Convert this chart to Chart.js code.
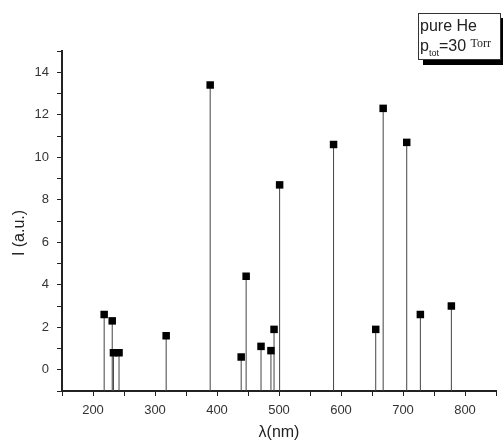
<!DOCTYPE html>
<html>
<head>
<meta charset="utf-8">
<script src="https://cdn.jsdelivr.net/npm/chart.js@4/dist/chart.umd.min.js"></script>
<style>
  html, body { margin: 0; padding: 0; background: #fff; overflow: hidden; }
  .wrap { position: relative; width: 503px; height: 442px; }
  .note {
    position: absolute; left: 418px; top: 13px; width: 83px; height: 47px;
    box-sizing: border-box; border: 1px solid #333; background: #fff;
    box-shadow: 5px 5px 0 #000;
    font-family: Arial, "Liberation Sans", sans-serif; font-size: 16px; color: #222;
    padding: 2px 0 0 1px; line-height: 20px; white-space: nowrap;
  }
  .note sub { font-size: 9px; vertical-align: -5px; line-height: 0; }
  .note .torr { font-family: "Times New Roman", "Liberation Serif", serif; font-size: 12px; vertical-align: 4px; line-height: 0; }
</style>
</head>
<body>
<div class="wrap">
  <canvas id="chart" width="503" height="442"></canvas>
  <div class="note">
    <div>pure He</div>
    <div>p<sub>tot</sub>=30 <span class="torr">Torr</span></div>
  </div>
</div>
<script>
// emission lines, pure He at 30 Torr
const wavelengths = [218, 231, 233, 242, 318, 389, 439, 447, 471, 487, 492, 501, 588, 656, 668, 706, 728, 778];
const intensities = [2.6, 2.3, 0.8, 0.8, 1.6, 13.4, 0.6, 4.4, 1.1, 0.9, 1.9, 8.7, 10.6, 1.9, 12.3, 10.7, 2.6, 3.0];

const X_MIN = 150, X_MAX = 850;
const Y_MIN = -1, Y_MAX = 15;

const points = wavelengths.map((w, i) => ({ x: w, y: intensities[i] }));

// stems: bottom of axis up to the point, then a gap
const stems = [];
wavelengths.forEach((w, i) => {
  stems.push({ x: w, y: Y_MIN });
  stems.push({ x: w, y: intensities[i] });
  stems.push({ x: w, y: null });
});

const tickFont = { family: "Arial, 'Liberation Sans', sans-serif", size: 13 };

const yTitlePlugin = {
  id: "yTitle",
  afterDraw(chart) {
    const ctx = chart.ctx;
    ctx.save();
    ctx.translate(20, 233);
    ctx.rotate(-Math.PI / 2);
    ctx.font = "16px Arial, 'Liberation Sans', sans-serif";
    ctx.fillStyle = "#222";
    ctx.textAlign = "center";
    ctx.textBaseline = "middle";
    ctx.fillText("I (a.u.)", 0, 0);
    ctx.restore();
  },
};

new Chart(document.getElementById("chart"), {
  type: "scatter",
  data: {
    datasets: [
      {
        label: "lines",
        data: points,
        pointStyle: "rect",
        pointRadius: 5.3,
        pointHoverRadius: 5.3,
        backgroundColor: "#000",
        borderColor: "#000",
        borderWidth: 0,
        order: 0,
      },
      {
        label: "stems",
        type: "line",
        data: stems,
        showLine: true,
        spanGaps: false,
        pointRadius: 0,
        borderColor: "#444",
        borderWidth: 1,
        order: 1,
      },
    ],
  },
  options: {
    responsive: false,
    animation: false,
    devicePixelRatio: 1,
    layout: { padding: { top: 51, right: 7, left: 0, bottom: 0 } },
    plugins: { legend: { display: false }, tooltip: { enabled: false } },
    scales: {
      x: {
        type: "linear",
        min: X_MIN,
        max: X_MAX,
        afterFit: (s) => { s.height = 51; },
        border: { display: true, color: "#222", width: 2 },
        grid: { drawOnChartArea: false, drawTicks: true, tickLength: 5, tickColor: "#222", tickWidth: 1 },
        ticks: {
          stepSize: 50,
          autoSkip: false,
          maxRotation: 0,
          padding: 7,
          color: "#333",
          font: tickFont,
          callback: (v) => (v % 100 === 0 ? String(v) : ""),
        },
        title: {
          display: true,
          text: "λ(nm)",
          color: "#222",
          font: { family: "Arial, 'Liberation Sans', sans-serif", size: 16 },
          padding: { top: 0, bottom: 0 },
        },
      },
      y: {
        type: "linear",
        min: Y_MIN,
        max: Y_MAX,
        afterFit: (s) => { s.width = 62; },
        border: { display: true, color: "#222", width: 2 },
        grid: { drawOnChartArea: false, drawTicks: true, tickLength: 5, tickColor: "#222", tickWidth: 1 },
        ticks: {
          stepSize: 1,
          autoSkip: false,
          padding: 8,
          color: "#333",
          font: tickFont,
          callback: (v) => (v % 2 === 0 ? String(v) : ""),
        },
      },
    },
  },
  plugins: [yTitlePlugin],
});
</script>
</body>
</html>
